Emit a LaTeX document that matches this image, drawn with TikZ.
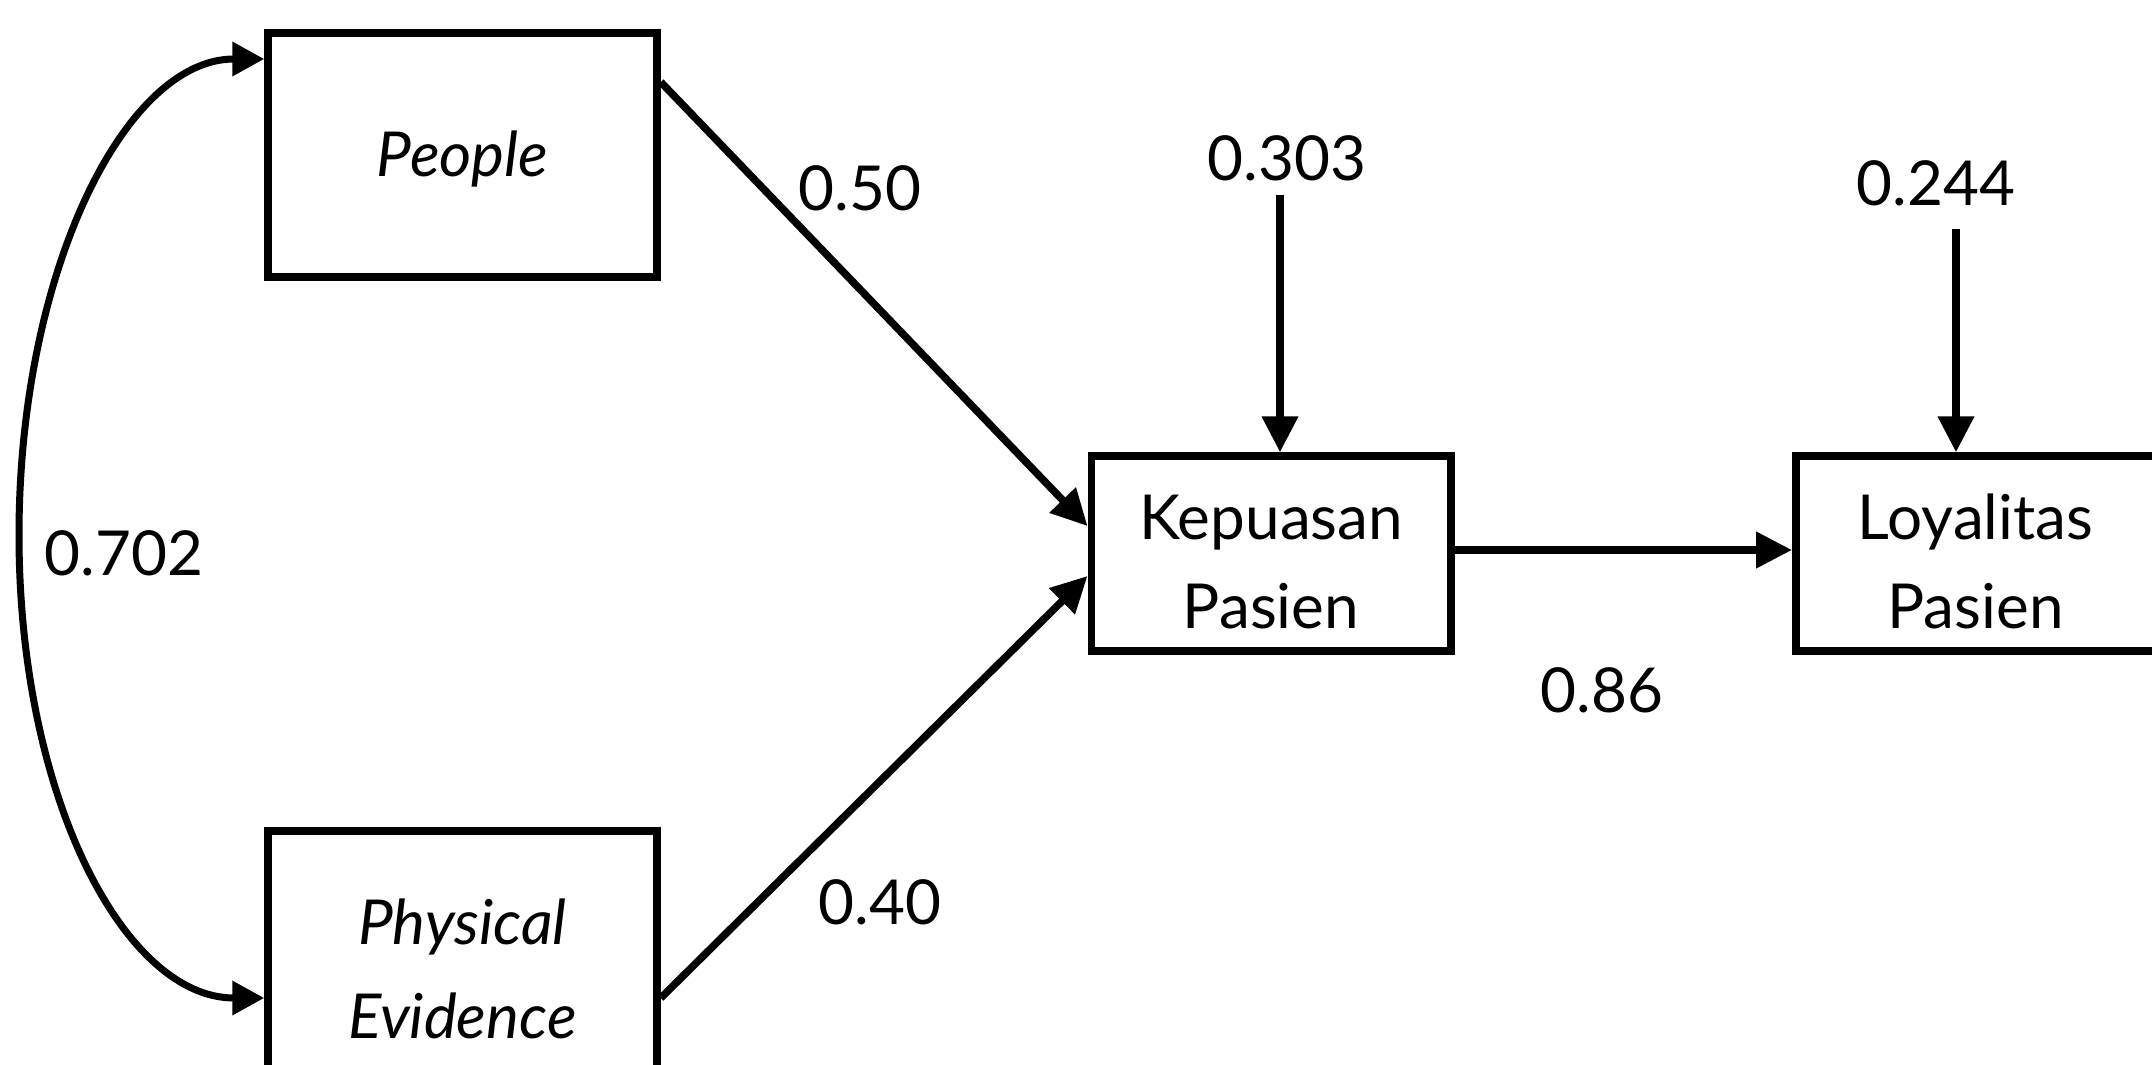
\documentclass[tikz,border=0pt]{standalone}
\usepackage{fontspec}
\setmainfont{Lato}
\usetikzlibrary{arrows.meta,calc}
\newcommand{\twoline}[3][0pt]{\raisebox{#1}[\height][\depth]{\begin{tabular}{@{}c@{}}#2\\#3\end{tabular}}}
\begin{document}
\begin{tikzpicture}[x=1pt,y=-1pt, line width=7.5pt,
  box/.style={draw, rectangle, align=center, inner sep=0pt,
    font=\fontsize{62}{89}\selectfont, minimum width=359.5pt, minimum height=195pt},
  ibox/.style={box, font=\fontsize{62}{94}\selectfont\itshape, minimum width=389pt},
  lbl/.style={font=\fontsize{62}{74}\selectfont, inner sep=0pt},
  arr/.style={-{Triangle[length=36pt,width=35pt]}},
  dbl/.style={{Triangle[length=32pt,width=33pt]}-{Triangle[length=32pt,width=33pt]}, line width=7pt}]
\useasboundingbox (0,0) rectangle (2152,1065);
\fill[white] (0,0) rectangle (2152,1065);

\node[ibox, minimum height=244pt] (ppl) at (462.5,155) {\raisebox{-4pt}[\height][\depth]{People}};
\node[ibox, minimum height=276pt] (pe) at (462.5,969) {Physical\\Evidence};
\node[box] (kep) at (1271,553.5) {\twoline[-13pt]{Kepuasan}{Pasien}};
\node[box] (loy) at (1975.5,553.5) {\twoline[-13pt]{Loyalitas}{Pasien}};

% correlation curve
\draw[dbl] ([yshift=96pt]ppl.west) .. controls (125,59) and (19,272) .. (19,535)
  .. controls (19,798) and (125,998) .. ([yshift=-29pt]pe.west);
\node[lbl] (l702) at (124,553) {0.702};

% paths
\draw[arr] ([yshift=73pt]ppl.east) -- ([yshift=27.5pt]kep.west);
\draw[arr] ([yshift=-29pt]pe.east) -- ([yshift=-22.5pt]kep.west);
\draw[arr] ([yshift=3.5pt]kep.east) -- ([yshift=3.5pt]loy.west);
\node[lbl] (l50) at (860,188) {0.50};
\node[lbl] (l40) at (880,902) {0.40};
\node[lbl] (l86) at (1602,690) {0.86};

% residuals
\coordinate (r1) at (1280,195);
\coordinate (r2) at (1956,229);
\draw[arr] (r1) -- (r1 |- kep.north);
\draw[arr] (r2) -- (r2 |- loy.north);
\node[lbl] (l303) at (1287,158) {0.303};
\node[lbl] (l244) at (1936,183) {0.244};
\end{tikzpicture}
\end{document}
